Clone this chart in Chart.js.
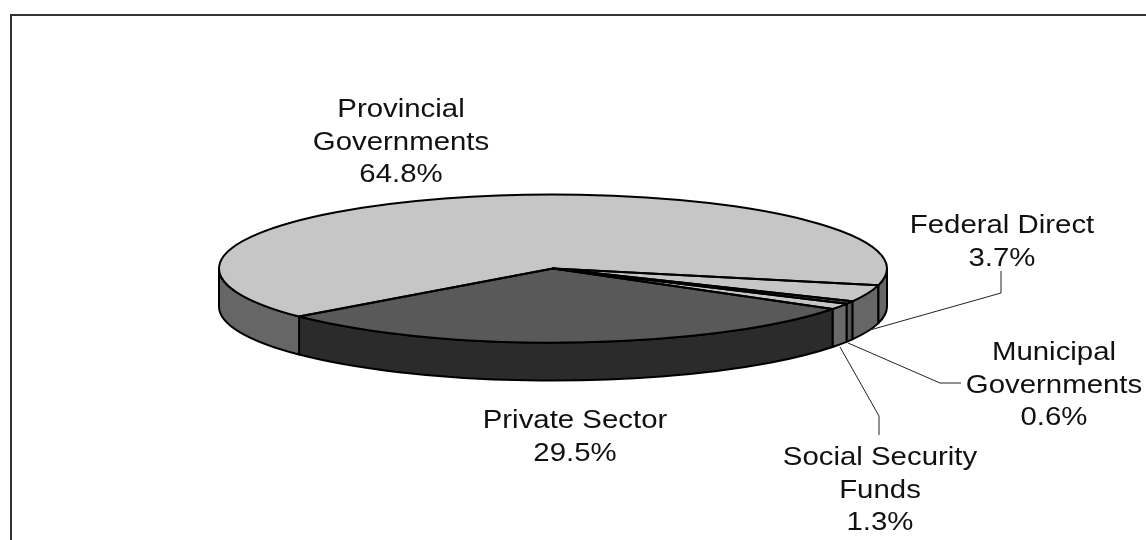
<!DOCTYPE html>
<html>
<head>
<meta charset="utf-8">
<title>Pie</title>
<style>
    html, body { margin: 0; padding: 0; background: #fff; overflow: hidden; }
    canvas { display: block; }
</style>
<script src="https://cdn.jsdelivr.net/npm/chart.js@4/dist/chart.umd.js"></script>
</head>
<body>
<canvas id="chart" width="1146" height="540"></canvas>
<script>
// order is clockwise, as in the original
const sectors = [
    ['Federal Direct'],
    ['Municipal', 'Governments'],
    ['Social Security', 'Funds'],
    ['Private Sector'],
    ['Provincial', 'Governments']
];
const shares = [3.7, 0.6, 1.3, 29.5, 64.8];
const topColors = ['#c6c6c6', '#5a5a5a', '#c6c6c6', '#595959', '#c6c6c6'];
const wallColors = ['#666666', '#555555', '#6a6a6a', '#2b2b2b', '#666666'];

const RADIUS = 334;
const SQUASH = 74 / 334;
const DEPTH = 38;
const FONT_STRETCH = 1.13;

// label centre x and first baseline y, per sector
const labelPos = [
    [1002, 233],
    [1054, 360],
    [880, 465],
    [575, 428],
    [401, 117]
];
const LINE_HEIGHT = 32.5;

// leader lines for the three thin slices
const leaders = [
    [[870, 330], [1001, 293], [1001, 271]],
    [[848, 343], [940, 383], [961, 383]],
    [[840, 347], [879, 416], [879, 435]]
];

function visibleRanges(start, end) {
    // parts of a slice that are on the front half of the ellipse
    const ranges = [];
    for (let k = -1; k <= 1; k++) {
        const a = Math.max(start, k * 2 * Math.PI);
        const b = Math.min(end, k * 2 * Math.PI + Math.PI);
        if (b > a) ranges.push([a, b]);
    }
    return ranges;
}

const pie3d = {
    id: 'pie3d',
    beforeDatasetsDraw(chart) {
        const ctx = chart.ctx;
        const arcs = chart.getDatasetMeta(0).data;

        ctx.save();
        ctx.strokeStyle = '#333';
        ctx.lineWidth = 2;
        ctx.beginPath();
        ctx.moveTo(1146, 15);
        ctx.lineTo(11, 15);
        ctx.lineTo(11, 540);
        ctx.stroke();

        ctx.strokeStyle = '#000';
        ctx.lineWidth = 2;
        ctx.lineJoin = 'round';
        arcs.forEach(function(arc, i) {
            const ry = arc.outerRadius * SQUASH;
            visibleRanges(arc.startAngle, arc.endAngle).forEach(function(r) {
                ctx.beginPath();
                ctx.ellipse(arc.x, arc.y, arc.outerRadius, ry, 0, r[0], r[1]);
                ctx.ellipse(arc.x, arc.y + DEPTH, arc.outerRadius, ry, 0, r[1], r[0], true);
                ctx.closePath();
                ctx.fillStyle = wallColors[i];
                ctx.fill();
                ctx.stroke();
            });
        });
        ctx.restore();

        // the library's arcs are drawn squashed to an ellipse
        const first = arcs[0];
        ctx.save();
        ctx.translate(first.x, first.y);
        ctx.scale(1, SQUASH);
        ctx.translate(-first.x, -first.y);
    },
    afterDatasetsDraw(chart) {
        const ctx = chart.ctx;
        const arcs = chart.getDatasetMeta(0).data;
        ctx.restore();

        ctx.save();
        ctx.strokeStyle = '#000';
        ctx.lineWidth = 2;
        ctx.lineJoin = 'round';
        arcs.forEach(function(arc) {
            ctx.beginPath();
            ctx.moveTo(arc.x, arc.y);
            ctx.ellipse(arc.x, arc.y, arc.outerRadius, arc.outerRadius * SQUASH, 0, arc.startAngle, arc.endAngle);
            ctx.closePath();
            ctx.stroke();
        });

        ctx.lineWidth = 1;
        ctx.strokeStyle = '#222';
        leaders.forEach(function(pts) {
            ctx.beginPath();
            pts.forEach(function(p, n) {
                if (n === 0) ctx.moveTo(p[0], p[1]);
                else ctx.lineTo(p[0], p[1]);
            });
            ctx.stroke();
        });

        ctx.fillStyle = '#111';
        ctx.font = '26px "Liberation Sans"';
        ctx.textAlign = 'center';
        ctx.textBaseline = 'alphabetic';
        sectors.forEach(function(lines, i) {
            const rows = lines.concat([shares[i] + '%']);
            rows.forEach(function(row, n) {
                ctx.save();
                ctx.translate(labelPos[i][0], labelPos[i][1] + n * LINE_HEIGHT);
                ctx.scale(FONT_STRETCH, 1);
                ctx.fillText(row, 0, 0);
                ctx.restore();
            });
        });
        ctx.restore();
    }
};

new Chart(document.getElementById('chart'), {
    type: 'pie',
    data: {
        labels: sectors.map(function(s) { return s.join(' '); }),
        datasets: [{
            data: shares,
            backgroundColor: topColors,
            borderWidth: 0,
            clip: false
        }]
    },
    options: {
        responsive: false,
        animation: false,
        devicePixelRatio: 1,
        rotation: 103,
        radius: RADIUS,
        layout: { padding: { right: 40, bottom: 3 } },
        plugins: {
            legend: { display: false },
            tooltip: { enabled: false }
        }
    },
    plugins: [pie3d]
});
</script>
</body>
</html>
